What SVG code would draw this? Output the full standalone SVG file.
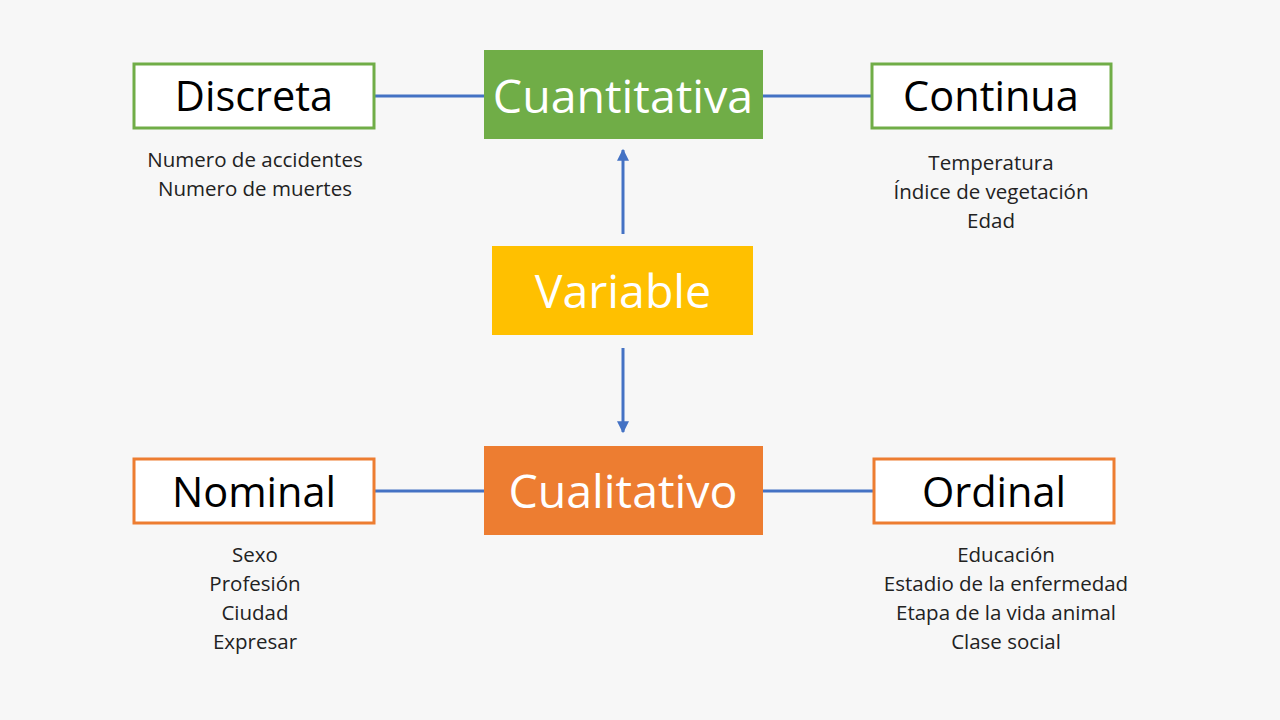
<svg xmlns="http://www.w3.org/2000/svg" width="1280" height="720" viewBox="0 0 1280 720">
<defs>
<marker id="ah" viewBox="0 0 10 10" refX="9" refY="5" markerWidth="4" markerHeight="4" orient="auto" markerUnits="strokeWidth">
<path d="M0,0 L10,5 L0,10 z" fill="#4472c4"/>
</marker>
<style>
.big{font-family:"Open Sans","Noto Sans","Liberation Sans",sans-serif;font-size:41.5px;text-anchor:middle}
.head{font-family:"Open Sans","Noto Sans","Liberation Sans",sans-serif;font-size:46.5px;text-anchor:middle;fill:#fff}
.sub{font-family:"Open Sans","Noto Sans","Liberation Sans",sans-serif;font-size:20.5px;text-anchor:middle;fill:#222}
.wbox{fill:#fff;stroke-width:3}
.conn{stroke:#4472c4;stroke-width:3;fill:none}
</style>
</defs>
<rect width="1280" height="720" fill="#f7f7f7"/>
<g id="connectors">
<line class="conn" x1="375" y1="96" x2="484" y2="96"/>
<line class="conn" x1="763" y1="96" x2="871" y2="96"/>
<line class="conn" x1="375" y1="491" x2="484" y2="491"/>
<line class="conn" x1="763" y1="491" x2="873" y2="491"/>
<line class="conn" x1="623" y1="234" x2="623" y2="150" marker-end="url(#ah)"/>
<line class="conn" x1="623" y1="348" x2="623" y2="432" marker-end="url(#ah)"/>
</g>
<g id="cuantitativa">
<rect x="484" y="50" width="279" height="89" fill="#70ad47"/>
<text class="head" x="623" y="113">Cuantitativa</text>
</g>
<g id="discreta">
<rect class="wbox" x="134" y="64" width="240" height="64" stroke="#70ad47"/>
<text class="big" x="254" y="111" fill="#000">Discreta</text>
<text class="sub" x="255" y="167">Numero de accidentes</text>
<text class="sub" x="255" y="196">Numero de muertes</text>
</g>
<g id="continua">
<rect class="wbox" x="872" y="64" width="239" height="64" stroke="#70ad47"/>
<text class="big" x="991" y="111" fill="#000">Continua</text>
<text class="sub" x="991" y="170">Temperatura</text>
<text class="sub" x="991" y="199">Índice de vegetación</text>
<text class="sub" x="991" y="228">Edad</text>
</g>
<g id="variable">
<rect x="492" y="246" width="261" height="89" fill="#ffc000"/>
<text class="head" x="623" y="308">Variable</text>
</g>
<g id="cualitativo">
<rect x="484" y="446" width="279" height="89" fill="#ed7d31"/>
<text class="head" x="623" y="508">Cualitativo</text>
</g>
<g id="nominal">
<rect class="wbox" x="134" y="459" width="240" height="64" stroke="#ed7d31"/>
<text class="big" x="254" y="507" fill="#000">Nominal</text>
<text class="sub" x="255" y="562">Sexo</text>
<text class="sub" x="255" y="591">Profesión</text>
<text class="sub" x="255" y="620">Ciudad</text>
<text class="sub" x="255" y="649">Expresar</text>
</g>
<g id="ordinal">
<rect class="wbox" x="874" y="459" width="240" height="64" stroke="#ed7d31"/>
<text class="big" x="994" y="507" fill="#000">Ordinal</text>
<text class="sub" x="1006" y="562">Educación</text>
<text class="sub" x="1006" y="591">Estadio de la enfermedad</text>
<text class="sub" x="1006" y="620">Etapa de la vida animal</text>
<text class="sub" x="1006" y="649">Clase social</text>
</g>
</svg>
